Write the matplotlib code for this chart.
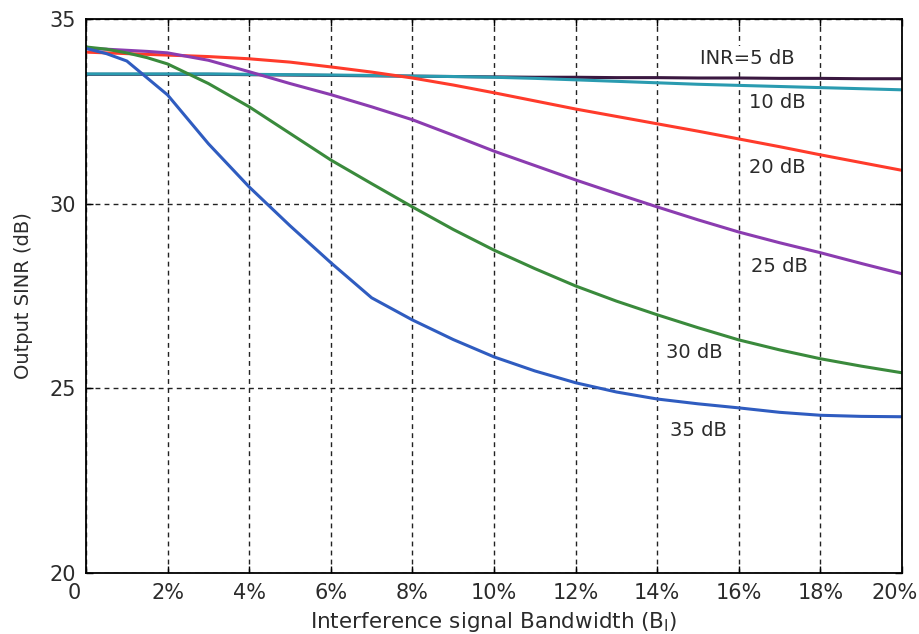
import matplotlib.pyplot as plt
import matplotlib.transforms as mtransforms

plt.rcParams['font.family'] = ['DejaVu Sans']

# bandwidth of the interferer, in percent
bw = [0, 0.5, 1, 1.5, 2, 3, 4, 5, 6, 7, 8, 9, 10, 11, 12, 13, 14, 15, 16, 17, 18, 19, 20]

# output SINR (dB) for each INR
sinr_5 = [33.50, 33.50, 33.50, 33.50, 33.50, 33.50, 33.49, 33.48, 33.47, 33.46, 33.45, 33.44,
          33.43, 33.42, 33.42, 33.41, 33.41, 33.40, 33.40, 33.39, 33.39, 33.38, 33.38]
sinr_10 = [33.51, 33.51, 33.51, 33.51, 33.51, 33.51, 33.50, 33.49, 33.48, 33.47, 33.45, 33.44,
           33.42, 33.39, 33.35, 33.31, 33.27, 33.23, 33.20, 33.17, 33.14, 33.11, 33.08]
sinr_20 = [34.10, 34.08, 34.06, 34.04, 34.02, 33.98, 33.92, 33.83, 33.70, 33.56, 33.40, 33.21,
           33.00, 32.78, 32.56, 32.36, 32.16, 31.96, 31.75, 31.54, 31.32, 31.11, 30.90]
sinr_25 = [34.20, 34.18, 34.15, 34.12, 34.08, 33.88, 33.57, 33.25, 32.95, 32.62, 32.27, 31.85,
           31.42, 31.03, 30.64, 30.27, 29.91, 29.56, 29.23, 28.94, 28.67, 28.38, 28.10]
sinr_30 = [34.24, 34.18, 34.08, 33.95, 33.78, 33.25, 32.62, 31.90, 31.18, 30.54, 29.91, 29.30,
           28.74, 28.24, 27.77, 27.36, 26.99, 26.64, 26.31, 26.04, 25.80, 25.60, 25.42]
sinr_35 = [34.20, 34.06, 33.86, 33.40, 32.94, 31.62, 30.45, 29.40, 28.40, 27.45, 26.85, 26.32,
           25.85, 25.47, 25.15, 24.90, 24.71, 24.58, 24.47, 24.35, 24.27, 24.24, 24.23]

curve_labels = ['INR=5 dB', '10 dB', '20 dB', '25 dB', '30 dB', '35 dB']
label_x = [16.2, 16.95, 16.95, 17.0, 14.9, 15.0]
label_y = [33.94, 32.73, 30.97, 28.31, 25.98, 23.87]

x_ticks = [0, 2, 4, 6, 8, 10, 12, 14, 16, 18, 20]
x_ticklabels = ['0'] + ['%d%%' % t for t in x_ticks[1:]]
y_ticks = [20, 25, 30, 35]

fig = plt.figure(figsize=(9.2, 6.34), dpi=100)
ax = fig.add_axes([0.0935, 0.0962, 0.887, 0.874])

lw = 2.2
ax.plot(bw, sinr_5, color='#3a1840', lw=lw)
ax.plot(bw, sinr_10, color='#2a9bb0', lw=lw)
ax.plot(bw, sinr_20, color='#ff3b2b', lw=lw)
ax.plot(bw, sinr_25, color='#8b3cb0', lw=lw)
ax.plot(bw, sinr_30, color='#3a8a3c', lw=lw)
ax.plot(bw, sinr_35, color='#2f5cc0', lw=lw)

txt = '#2b2b2b'
for s, tx, ty in zip(curve_labels, label_x, label_y):
    ax.text(tx, ty, s, ha='center', va='center', fontsize=14, color=txt, zorder=4,
            bbox=dict(facecolor='white', edgecolor='none', pad=1.5))

ax.set_xlim(0, 20)
ax.set_ylim(20, 35)
ax.set_xticks(x_ticks)
ax.set_xticklabels(x_ticklabels)
ax.set_yticks(y_ticks)
ax.grid(True, color='#222222', linestyle=(0, (3.5, 3)), linewidth=1.0)
ax.tick_params(direction='in', length=5, width=1, labelsize=15, colors='black',
               labelcolor=txt, top=True, right=True, pad=7)
for sp in ax.spines.values():
    sp.set_linewidth(1.3)

# nudge the end labels a little to the left, as MATLAB does
xlabs = ax.get_xticklabels()
xlabs[0].set_transform(xlabs[0].get_transform() + mtransforms.ScaledTranslation(-0.12, 0, fig.dpi_scale_trans))
xlabs[-1].set_transform(xlabs[-1].get_transform() + mtransforms.ScaledTranslation(-0.07, 0, fig.dpi_scale_trans))

ax.set_xlabel('Interference signal Bandwidth (B$_\\mathregular{I}$)', fontsize=15.5, color=txt, labelpad=5)
ax.set_ylabel('Output SINR (dB)', fontsize=14, color=txt, labelpad=12)

fig.savefig('out.png', dpi=100)
